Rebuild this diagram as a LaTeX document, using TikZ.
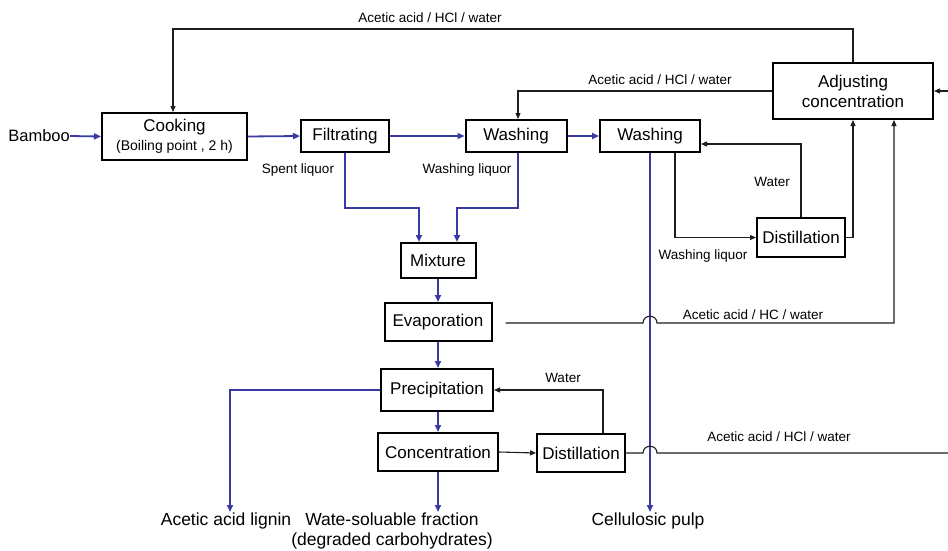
\documentclass[tikz,border=0pt]{standalone}
\usepackage{fontspec}
\setmainfont{Liberation Sans}
\usetikzlibrary{arrows.meta,calc}
\definecolor{flowblue}{RGB}{58,58,165}
\definecolor{linegray}{RGB}{30,30,30}
\begin{document}
\begin{tikzpicture}[x=1pt,y=-1pt,
  box/.style={draw,line width=2pt,inner sep=0pt,align=center,font=\fontsize{17}{20}\selectfont},
  blu/.style={draw=flowblue,line width=1.8pt,-{Triangle[length=7pt,width=6pt]}},
  blk/.style={draw=linegray,line width=1.1pt,-{Triangle[length=6pt,width=5pt]}},
  lbl/.style={font=\fontsize{13.5}{15}\selectfont,inner sep=0pt},
  outtxt/.style={font=\fontsize{17.5}{19.5}\selectfont,inner sep=1pt,align=center}]
\useasboundingbox[fill=white] (0,0) rectangle (948,551);

% boxes
\node[box,minimum width=145pt,minimum height=47pt] (cook) at (174.5,136.5)
  {Cooking\\[-1pt]{\fontsize{14}{16}\selectfont (Boiling point , 2 h)}};
\node[box,minimum width=88pt,minimum height=32pt] (filt) at (345,136) {Filtrating};
\node[box,minimum width=101pt,minimum height=32pt] (wash1) at (516,136) {Washing};
\node[box,minimum width=100pt,minimum height=32pt] (wash2) at (650,136) {Washing};
\node[box,minimum width=160pt,minimum height=56pt] (adj) at (853,91) {Adjusting\\concentration};
\node[box,minimum width=88pt,minimum height=39pt] (dist1) at (801,237.5) {Distillation};
\node[box,minimum width=75pt,minimum height=35pt] (mix) at (438,260.5) {Mixture};
\node[box,minimum width=107pt,minimum height=38pt] (evap) at (438,322) {Evaporation};
\node[box,minimum width=112pt,minimum height=42pt] (prec) at (437,390) {Precipitation};
\node[box,minimum width=120pt,minimum height=38pt] (conc) at (438,452) {Concentration};
\node[box,minimum width=88pt,minimum height=38pt] (dist2) at (581,453) {Distillation};

% inputs / outputs
\node[outtxt,font=\fontsize{16.5}{19}\selectfont,anchor=east,inner sep=0pt] (bamboo) at (70,136) {Bamboo};
\node[outtxt,anchor=north] (lignin) at (226,512) {Acetic acid lignin};
\node[outtxt,anchor=north] (ws) at (392,512) {Wate-soluable fraction\\(degraded carbohydrates)};
\node[outtxt,anchor=north] (pulp) at (648,512) {Cellulosic pulp};

% main blue flow
\draw[blu] (bamboo.east) -- (cook.west);
\draw[blu] (cook.east) -- (filt.west);
\draw[blu] (filt.east) -- (wash1.west);
\draw[blu] (wash1.east) -- (wash2.west);
\draw[blu] (filt.south) -- ++(0,55) -| ($(mix.north)+(-19,0)$);
\draw[blu] ($(wash1.south)+(2,0)$) -- ++(0,55) -| ($(mix.north)+(19,0)$);
\draw[blu] (mix.south) -- (mix.south |- evap.north);
\draw[blu] (evap.south) -- (evap.south |- prec.north);
\draw[blu] (evap.south |- prec.south) -- (evap.south |- conc.north);
\draw[blu] (prec.west) -| (lignin.north -| 230,0);
\draw[blu] (conc.south) -- (conc.south |- ws.north);
\draw[blu] (wash2.south) -- (wash2.south |- pulp.north);

\node[lbl] at (298,170) {Spent liquor};
\node[lbl] at (467,170) {Washing liquor};

% recycle lines
\draw[blk] (adj.north) -- ++(0,-33) -| ($(cook.north)+(-1.5,0)$);
\node[lbl] at (430,18) {Acetic acid / HCl / water};
\draw[blk] (adj.west) -| ($(wash1.north)+(2,0)$);
\node[lbl] at (660,80) {Acetic acid / HCl / water};

\draw[blk] ($(wash2.south)+(25,0)$) |- (dist1.west);
\node[lbl] at (703,256) {Washing liquor};
\draw[blk] (dist1.north) |- ($(wash2.east)+(0,8)$);
\node[lbl] at (772,182) {Water};
\draw[blk] (dist1.east) -| (adj.south);

\coordinate (h1) at ($(evap.east -| wash2.south)+(-7,1)$);
\coordinate (h2) at ($(evap.east -| wash2.south)+(7,1)$);
\draw[blk] ($(evap.east)+(13,1)$) -- (h1) .. controls ($(h1)+(0,-9)$) and ($(h2)+(0,-9)$) .. (h2) -| ($(adj.south)+(41,0)$);
\node[lbl] at (753,315) {Acetic acid / HC / water};

\draw[blk] (conc.east) -- (dist2.west);
\draw[blk] ($(dist2.north)+(22,0)$) |- (prec.east);
\node[lbl] at (563,378) {Water};

\coordinate (h3) at ($(dist2.east -| wash2.south)+(-7,0)$);
\coordinate (h4) at ($(dist2.east -| wash2.south)+(7,0)$);
\coordinate (edgeR) at (948,453);
\draw[blk,-] (dist2.east) -- (h3) .. controls ($(h3)+(0,-9)$) and ($(h4)+(0,-9)$) .. (h4) -- (edgeR);
\node[lbl] at (779,437) {Acetic acid / HCl / water};

\coordinate (edgeA) at (948,91);
\draw[blk] (edgeA) -- (adj.east);
\end{tikzpicture}
\end{document}
